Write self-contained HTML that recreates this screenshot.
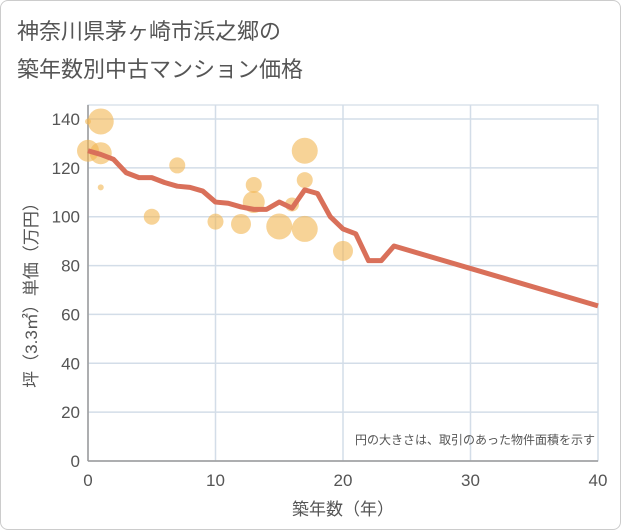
<!DOCTYPE html>
<html><head><meta charset="utf-8"><style>
body{margin:0;background:#fff;font-family:"Liberation Sans","Noto Sans CJK JP",sans-serif;}
#wrap{position:relative;width:619px;height:528px;border:1px solid #ccc;border-radius:8px;overflow:hidden;background:#fff}
#title{position:absolute;left:16px;top:12px;font-size:22px;line-height:38px;color:#555;}
</style></head><body>
<div id="wrap">
<div id="title">神奈川県茅ヶ崎市浜之郷の<br>築年数別中古マンション価格</div>
<svg id="chart" width="621" height="530" style="position:absolute;left:0;top:0"></svg>
</div>
<script>
const xTicks=[0,10,20,30,40];
const yTicks=[0,20,40,60,80,100,120,140];
const lineYears=[0,1,2,3,4,5,6,7,8,9,10,11,12,13,14,15,16,17,18,19,20,21,22,23,24,40];
const linePrices=[127,125.5,123.5,118,116,116,114,112.5,112,110.5,106,105.5,104,103,103,106,103.5,111,109.5,100,95,93,82,82,88,63.5];
const bubbleYears=[0,1,0,1,1,7,5,10,12,13,13,15,16,17,17,17,20];
const bubblePrices=[139,139,127,126,112,121,100,98,97,113,106,96,105,127,115,95,86];
const bubbleSizes=[3,13,11,11,3,8,8,8,10,8,11,13,7,13,8,13,10];
const NS='http://www.w3.org/2000/svg';
const svg=document.getElementById('chart');
const X0=87,X1=597,Y0=460,Y1=118,XMAX=40,YMAX=140,YTOP=104;
const xs=v=>X0+(X1-X0)*v/XMAX;
const ys=v=>Y0-(Y0-Y1)*v/YMAX;
function mk(t,a){const e=document.createElementNS(NS,t);for(const k in a)e.setAttribute(k,a[k]);svg.appendChild(e);return e;}
let e=mk('rect',{x:X0,y:YTOP,width:X1-X0,height:Y0-YTOP,fill:'none',stroke:'#c8d4e0'});


yTicks.forEach(v=>{
 e=mk('line',{x1:X0,x2:X1,y1:ys(v),y2:ys(v),stroke:'#d3dde8','stroke-width':1.5});
 
 
 e=mk('text',{x:X0-8,y:ys(v)+6,'text-anchor':'end','font-size':17,fill:'#555'});e.textContent=v;
 
 
});
xTicks.forEach(v=>{
 e=mk('line',{x1:xs(v),x2:xs(v),y1:YTOP,y2:Y0,stroke:'#d3dde8','stroke-width':1.5});
 
 
 e=mk('text',{x:xs(v),y:Y0+25,'text-anchor':'middle','font-size':17,fill:'#555'});e.textContent=v;
 
 
});
e=mk('line',{x1:X0,x2:X1,y1:Y0,y2:Y0,stroke:'#999','stroke-width':1.5});


e=mk('line',{x1:X0,x2:X0,y1:YTOP,y2:Y0,stroke:'#999','stroke-width':1.5});


bubbleYears.forEach((yr,i)=>{
 e=mk('circle',{cx:xs(yr),cy:ys(bubblePrices[i]),r:bubbleSizes[i],fill:'#f1b552','fill-opacity':0.6});
 
 
});
e=mk('polyline',{points:lineYears.map((y,i)=>xs(y)+','+ys(linePrices[i])).join(' '),fill:'none',stroke:'#d9705a','stroke-width':5,'stroke-linejoin':'round'});


e=mk('text',{x:342,y:514,'text-anchor':'middle','font-size':17,fill:'#555'});e.textContent='築年数（年）';


e=mk('text',{x:0,y:0,'text-anchor':'middle','font-size':17,fill:'#555',transform:'translate(36,290) rotate(-90)'});e.textContent='坪（3.3㎡）単価（万円）';


e=mk('text',{x:594,y:443,'text-anchor':'end','font-size':12,fill:'#555'});e.textContent='円の大きさは、取引のあった物件面積を示す';


</script>
</body></html>
